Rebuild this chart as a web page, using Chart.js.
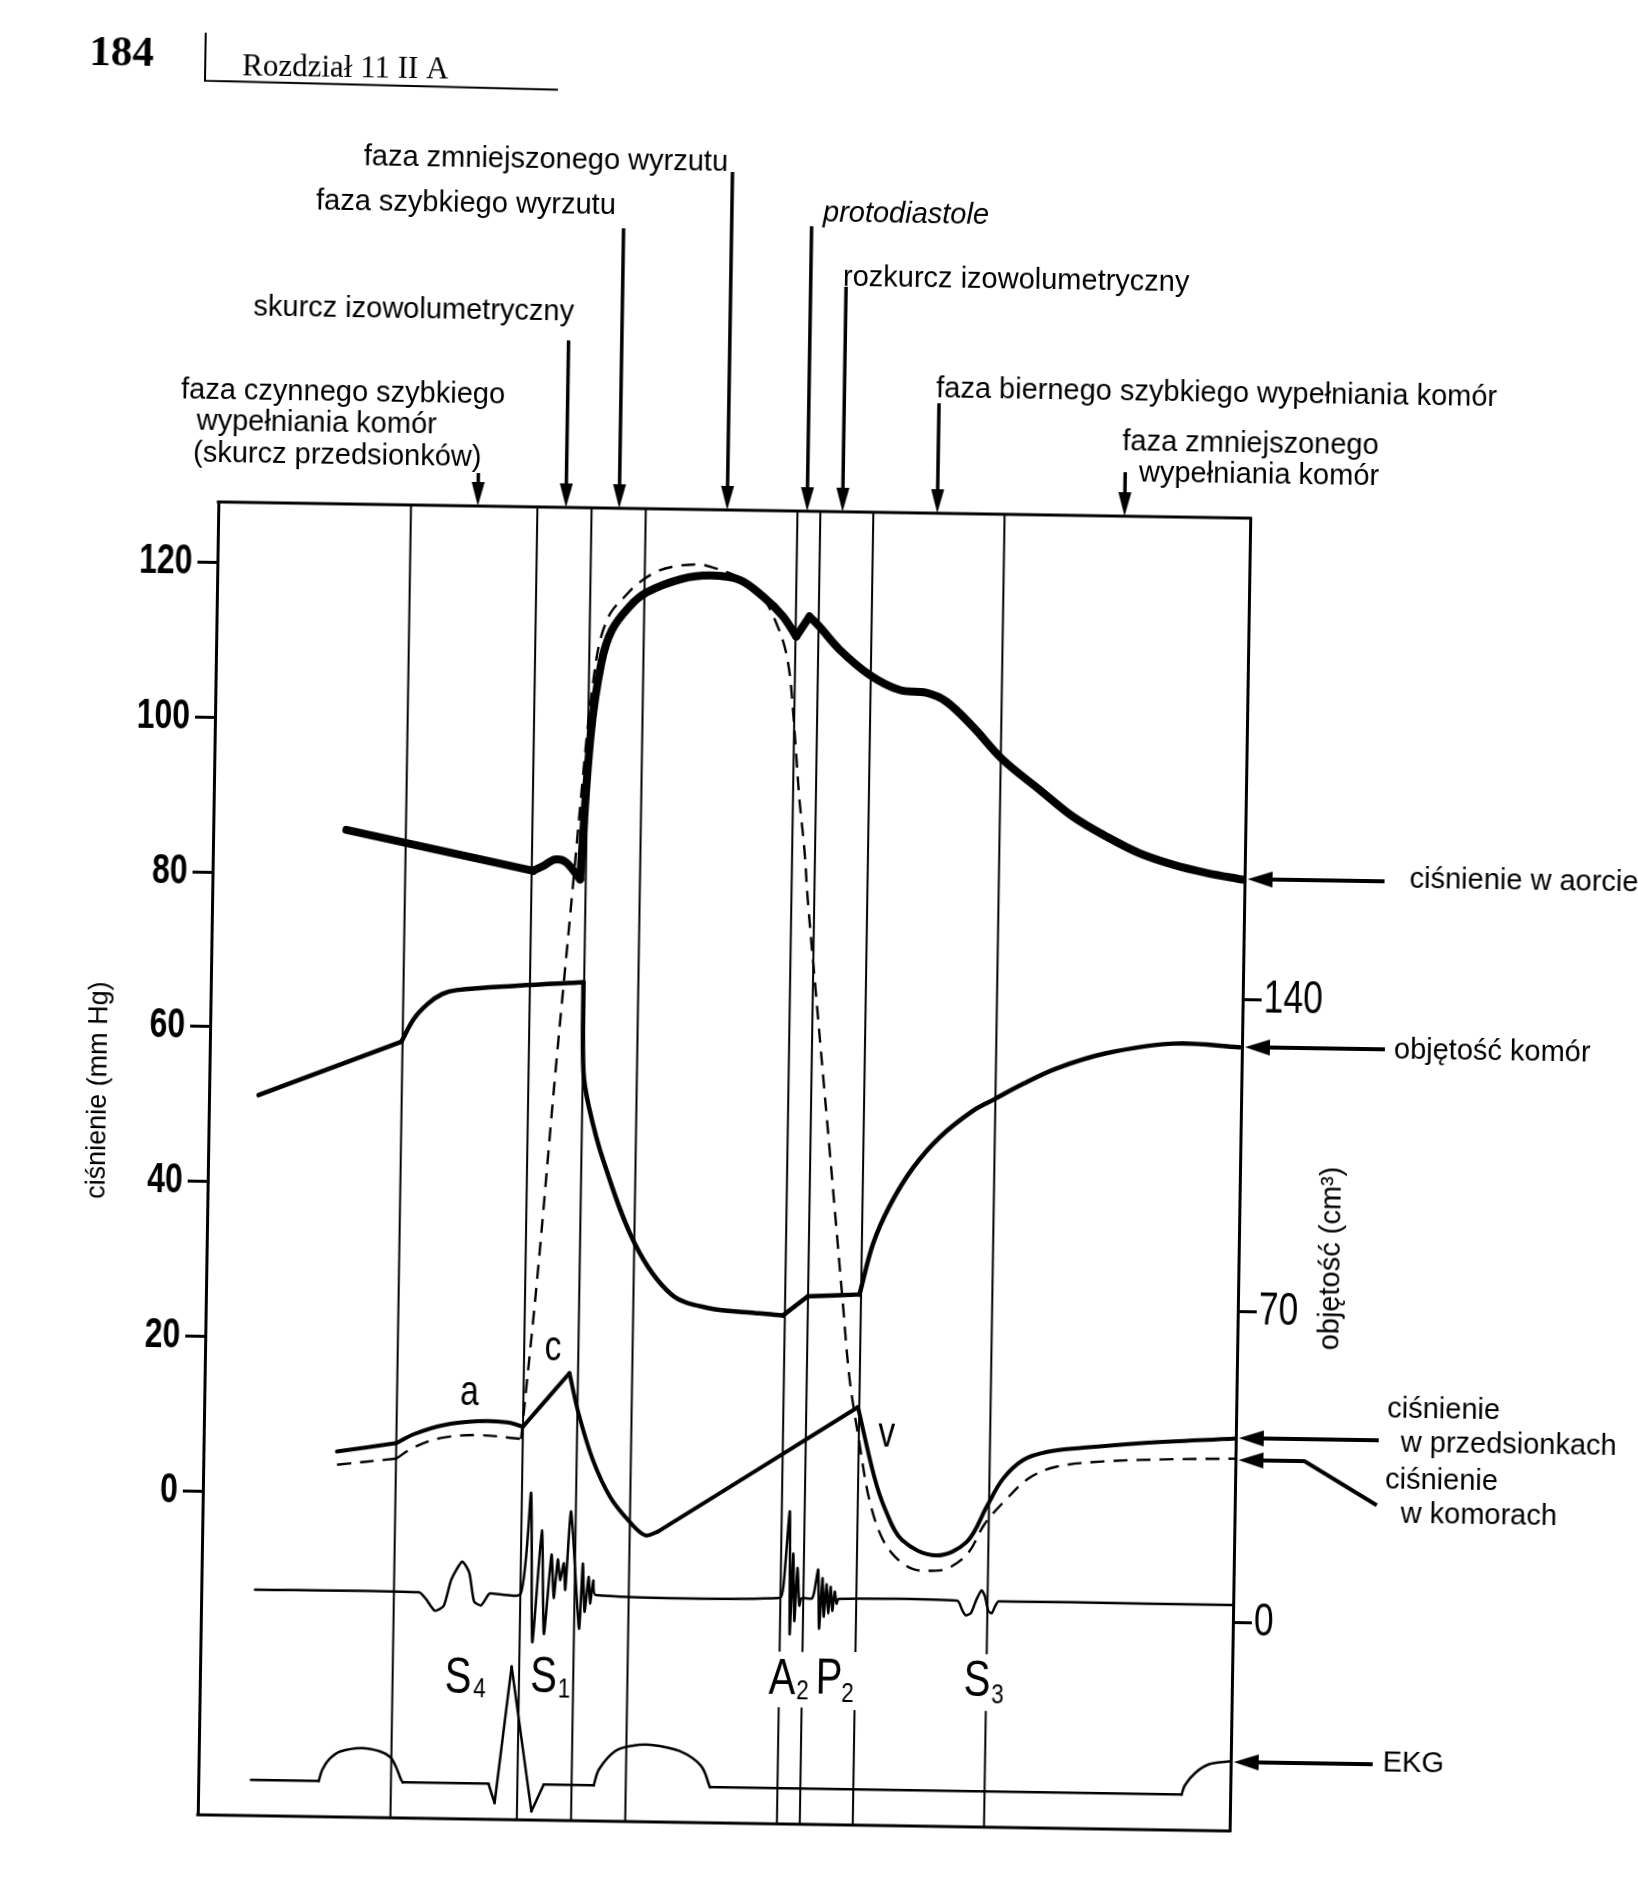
<!DOCTYPE html>
<html>
<head>
<meta charset="utf-8">
<script src="https://cdn.jsdelivr.net/npm/chart.js@4.4.1/dist/chart.umd.min.js"></script>
<style>
  html, body { margin: 0; padding: 0; background: #fff; overflow: hidden; }
  #wrap { width: 1638px; height: 1888px; position: relative; overflow: hidden; background: #fff; }
  /* the printed page is scanned about 0.9 degree clockwise */
  #wiggers { display: block; transform-origin: 725px 1166px; transform: rotate(0.9deg); }
</style>
</head>
<body>
<div id="wrap"><canvas id="wiggers" width="1638" height="1888"></canvas></div>
<script>
// time in ms from the left edge of the frame
const phaseTimes = [160, 265, 310, 355, 481, 500, 544, 653];

// cisnienie w aorcie (mm Hg)
const aortaTime = [110.6, 266.2, 275.1, 284.0, 293.1, 305.3, 312.1, 320.0, 328.3, 342.6, 357.0, 385.9, 409.2, 433.8, 453.4, 470.2, 481.6, 492.3, 500.8, 517.7, 542.9, 568.1, 590.3, 607.0, 629.4, 654.7, 685.6, 713.6, 741.6, 769.4, 797.3, 825.1, 855.6];
const aortaPressure = [85.7, 80.8, 81.5, 82.3, 82.0, 79.8, 98.3, 107.7, 112.0, 115.1, 117.0, 118.8, 119.3, 118.8, 116.7, 114.2, 111.6, 114.2, 112.9, 110.0, 106.8, 104.9, 104.6, 103.5, 100.3, 96.1, 92.3, 88.9, 86.4, 84.3, 82.9, 81.9, 81.1];
const aortaCorners = [1, 5, 16, 17];

// cisnienie w komorach (mm Hg)
const ventricleTime = [111.1, 160.1, 174.7, 198.3, 228.0, 263.6, 275.1, 287.3, 298.5, 309.2, 313.1, 318.4, 326.9, 338.6, 350.2, 365.0, 379.7, 400.5, 412.3, 429.3, 444.5, 456.3, 464.8, 472.0, 476.5, 479.6, 483.0, 486.4, 491.2, 494.6, 502.8, 509.3, 515.9, 522.4, 528.9, 535.5, 544.6, 553.6, 564.1, 575.9, 590.3, 604.7, 618.9, 635.9, 649.8, 666.7, 686.2, 708.3, 749.7, 805.0, 857];
const ventriclePressure = [3.7, 4.6, 6.1, 7.4, 7.8, 7.4, 28.6, 54.8, 77.1, 98.7, 104.7, 110.4, 114.2, 116.4, 118.2, 119.7, 120.4, 120.7, 120.3, 119.4, 118.0, 115.9, 113.3, 110.3, 106.9, 102.5, 96.5, 90.5, 84.0, 77.6, 65.2, 55.4, 45.5, 35.6, 25.7, 15.9, 7.5, 0.2, -4.5, -7.1, -8.6, -8.8, -8.5, -6.5, -2.6, 0.5, 3.4, 4.9, 5.7, 6.1, 6.3];
const ventricleCorners = [1, 5];

// cisnienie w przedsionkach (mm Hg)
const atriumTime = [110.9, 159.9, 174.6, 198.2, 227.8, 251.6, 265.0, 302.9, 310.8, 323.3, 338.6, 356.1, 368.2, 378.4, 542.9, 557.0, 566.4, 581.3, 609.5, 634.9, 651.4, 664.1, 680.8, 700.7, 730.7, 777.1, 857];
const atriumPressure = [5.4, 6.6, 7.8, 9.0, 9.6, 9.5, 9.0, 16.0, 10.9, 4.9, 0.0, -3.3, -4.8, -4.3, 12.2, 3.4, -0.8, -4.9, -6.8, -5.0, -0.3, 3.2, 5.7, 6.8, 7.4, 8.1, 8.9];
const atriumCorners = [1, 6, 7, 13, 14];

// objetosc komor (cm3)
const volumeTime = [41.1, 159.0, 169.1, 180.8, 192.5, 204.2, 254.7, 309.4, 310.6, 315.5, 328.1, 355.9, 386.2, 416.0, 460.0, 479.3, 499.8, 542.7, 553.1, 566.5, 585.3, 607.1, 634.5, 652.3, 675.6, 703.1, 744.4, 799.6, 855.1];
const volumeValues = [115.1, 127.6, 132.8, 136.3, 138.5, 139.4, 140.6, 141.6, 121.4, 113.7, 101.7, 82.8, 71.8, 68.9, 67.8, 67.4, 71.8, 72.4, 83.7, 92.4, 101.0, 108.0, 114.1, 116.8, 120.3, 123.9, 127.5, 129.9, 129.3];
const volumeCorners = [1, 7, 15, 16, 17];

// tony serca (arbitrary units)
const soundTime = [44.6, 180.7, 186.7, 194.1, 201.5, 207.5, 216.3, 222.3, 226.7, 232.6, 238.5, 240.0, 265.2, 272.6, 275.5, 282.1, 285.0, 290.4, 292.7, 295.7, 297.8, 300.7, 302.2, 306.1, 314.1, 316.5, 318.5, 321.5, 323.0, 325.4, 327.4, 480.5, 483.4, 487.7, 489.1, 491.1, 492.8, 494.8, 496.8, 498.5, 507.1, 509.1, 512.0, 513.4, 515.7, 517.1, 519.1, 520.8, 522.5, 524.2, 526.0, 527.7, 529.4, 627.9, 632.2, 635.1, 639.4, 643.7, 648.0, 650.8, 653.7, 656.6, 659.4, 662.3, 857];
const soundAmp = [0, 0, -0.55, -1.5, -1.1, 1.1, 2.6, 1.7, -0.7, -1.0, -0.1, 0, 0, 8.4, -4.0, 5.3, -3.3, 3.3, -0.3, 2.9, 1.2, 2.6, 0.4, 6.9, -2.8, 2.6, -1.4, 1.5, -0.7, 1.2, 0, 0, 1.1, 7.2, -3.0, 3.7, -1.9, 2.5, -0.6, 0, 0, 0.6, 2.4, -2.5, 1.7, -1.5, 1.2, -1.2, 1.0, -1.0, 0.6, -0.4, 0, 0, -0.8, -1.2, -1.0, 0.1, 0.9, 0.4, -0.8, -1.0, -0.4, 0, 0];

// EKG (mV)
const ecgTime = [43.8, 100.0, 102.9, 108.6, 117.4, 135.2, 150.0, 159.1, 163.6, 168.3, 169.8, 241.0, 246.3, 258.7, 277.0, 286.9, 328.4, 332.7, 345.8, 360.6, 375.4, 399.2, 417.2, 424.9, 816.6, 819.4, 827.9, 839.2, 853.5, 857];
const ecgMv = [0, 0, 0.12, 0.23, 0.31, 0.35, 0.32, 0.26, 0.17, 0.03, 0, 0, -0.2, 1.22, -0.28, 0, 0, 0.17, 0.36, 0.42, 0.43, 0.37, 0.22, 0, 0, 0.1, 0.23, 0.32, 0.35, 0.35];
const ecgCorners = [1, 10, 11, 12, 13, 14, 15, 16, 23, 24];

const pressureTicks = [0, 20, 40, 60, 80, 100, 120];
const volumeTicks = [0, 70, 140];

const SANS = "'Liberation Sans', Arial, sans-serif";
const SERIF = "'Liberation Serif', 'Times New Roman', serif";

// split a trace at its sharp corners so the smoothing keeps them sharp
function pieces(times, values, corners, axis, style) {
  const cuts = [0, ...corners, times.length - 1];
  const out = [];
  for (let k = 0; k < cuts.length - 1; k++) {
    const pts = [];
    for (let i = cuts[k]; i <= cuts[k + 1]; i++) pts.push({ x: times[i], y: values[i] });
    out.push(Object.assign({
      data: pts, yAxisID: axis, borderColor: '#000', pointRadius: 0, fill: false,
      borderCapStyle: 'round', borderJoinStyle: 'round', tension: 0.35
    }, style));
  }
  return out;
}

const datasets = [
  ...pieces(aortaTime, aortaPressure, aortaCorners, 'y', { borderWidth: 8 }),
  ...pieces(ventricleTime, ventriclePressure, ventricleCorners, 'y', { borderWidth: 2.4, borderDash: [14, 9], borderCapStyle: 'butt' }),
  ...pieces(atriumTime, atriumPressure, atriumCorners, 'y', { borderWidth: 4 }),
  ...pieces(volumeTime, volumeValues, volumeCorners, 'vol', { borderWidth: 4.5 }),
  ...pieces(soundTime, soundAmp, [], 'pcg', { borderWidth: 2.5, tension: 0.2 }),
  ...pieces(ecgTime, ecgMv, ecgCorners, 'ecg', { borderWidth: 2.5 })
];

const pageNotes = [
  { text: 'faza zmniejszonego wyrzutu', x: 348, y: 171 },
  { text: 'faza szybkiego wyrzutu', x: 301, y: 216 },
  { text: 'protodiastole', x: 808, y: 220, italic: true },
  { text: 'rozkurcz izowolumetryczny', x: 829, y: 284 },
  { text: 'skurcz izowolumetryczny', x: 240, y: 323 },
  { text: 'faza czynnego szybkiego', x: 169, y: 407 },
  { text: 'wypełniania komór', x: 185, y: 438 },
  { text: '(skurcz przedsionków)', x: 182, y: 470 },
  { text: 'faza biernego szybkiego wypełniania komór', x: 924, y: 394 },
  { text: 'faza zmniejszonego', x: 1111, y: 444 },
  { text: 'wypełniania komór', x: 1128, y: 475 },
  { text: 'ciśnienie w aorcie', x: 1405, y: 877 },
  { text: 'objętość komór', x: 1392, y: 1048 },
  { text: 'ciśnienie', x: 1391, y: 1407 },
  { text: 'w przedsionkach', x: 1405, y: 1441 },
  { text: 'ciśnienie', x: 1390, y: 1478 },
  { text: 'w komorach', x: 1406, y: 1512 },
  { text: 'EKG', x: 1392, y: 1761 }
];
// phase arrows: time they point at, top of the shaft
const phaseArrows = [[215.5, 477], [288.7, 343], [332.9, 230], [422.6, 172], [489.0, 225], [518.4, 285], [597.1, 400], [752.6, 466]];
const sideArrows = [
  [[1380, 871], [1243, 871]],
  [[1383, 1039], [1243, 1039]],
  [[1383, 1430], [1243, 1430]],
  [[1382, 1495], [1309, 1452], [1243, 1452]],
  [[1382, 1754], [1243, 1754]]
];
const waveLetters = [['a', 473, 1409], ['c', 556, 1363], ['v', 891, 1444]];
const soundLabels = [
  { m: 'S', s: '4', x: 452.7, y: 1696.6, sx: 481.6, sy: 1701.0 },
  { m: 'S', s: '1', x: 538.2, y: 1695.3, sx: 565.9, sy: 1699.6 },
  { m: 'A', s: '2', x: 776.7, y: 1692.7, sx: 804.5, sy: 1698.3, gap: true },
  { m: 'P', s: '2', x: 823.7, y: 1692.0, sx: 849.5, sy: 1700.0, gap: true },
  { m: 'S', s: '3', x: 971.8, y: 1692.1, sx: 999.6, sy: 1698.8, gap: true }
];

function write(ctx, str, x, y, font, opt = {}) {
  ctx.save();
  ctx.font = font;
  ctx.fillStyle = '#000';
  ctx.textAlign = opt.align || 'left';
  ctx.textBaseline = opt.baseline || 'alphabetic';
  ctx.translate(x, y);
  if (opt.rotate) ctx.rotate(opt.rotate);
  ctx.scale(opt.scaleX || 1, 1);
  ctx.fillText(str, 0, 0);
  ctx.restore();
}

function arrow(ctx, pts, head, half, width) {
  const n = pts.length;
  const [x1, y1] = pts[n - 2], [x2, y2] = pts[n - 1];
  const ang = Math.atan2(y2 - y1, x2 - x1);
  const bx = x2 - Math.cos(ang) * head, by = y2 - Math.sin(ang) * head;
  ctx.save();
  ctx.strokeStyle = '#000';
  ctx.fillStyle = '#000';
  ctx.lineWidth = width;
  ctx.lineJoin = 'round';
  ctx.beginPath();
  ctx.moveTo(pts[0][0], pts[0][1]);
  for (let i = 1; i < n - 1; i++) ctx.lineTo(pts[i][0], pts[i][1]);
  ctx.lineTo(bx, by);
  ctx.stroke();
  ctx.beginPath();
  ctx.moveTo(x2, y2);
  ctx.lineTo(bx - Math.sin(ang) * half, by + Math.cos(ang) * half);
  ctx.lineTo(bx + Math.sin(ang) * half, by - Math.cos(ang) * half);
  ctx.closePath();
  ctx.fill();
  ctx.restore();
}

const decor = {
  id: 'decor',
  beforeDatasetsDraw(chart) {
    const { ctx, chartArea: a, scales: { x } } = chart;
    ctx.save();
    ctx.strokeStyle = '#000';
    ctx.lineWidth = 2;
    phaseTimes.forEach(t => {
      const px = x.getPixelForValue(t);
      ctx.beginPath();
      ctx.moveTo(px, a.top);
      ctx.lineTo(px, a.bottom);
      ctx.stroke();
    });
    ctx.lineWidth = 3;
    ctx.beginPath();
    ctx.moveTo(a.left - 1.5, a.top); ctx.lineTo(a.right + 1.5, a.top);
    ctx.moveTo(a.left - 1.5, a.bottom); ctx.lineTo(a.right + 1.5, a.bottom);
    ctx.stroke();
    ctx.fillStyle = '#fff';
    soundLabels.filter(s => s.gap).forEach(s => {
      ctx.fillRect(s.x - 4, s.y - 42, s.sx + 16 - (s.x - 4), s.sy + 8 - (s.y - 42));
    });
    ctx.restore();
  },
  afterDraw(chart) {
    const { ctx, chartArea: a, scales: { x, y, vol } } = chart;
    // page header
    write(ctx, '184', 72, 75, `bold 43px ${SERIF}`);
    write(ctx, 'Rozdział 11 II A', 225, 83, `31px ${SERIF}`);
    ctx.save();
    ctx.strokeStyle = '#000';
    ctx.lineWidth = 2;
    ctx.beginPath();
    ctx.moveTo(188, 41); ctx.lineTo(188, 89); ctx.lineTo(541, 92.6);
    ctx.stroke();
    ctx.restore();

    // condensed tick numbers, placed on the axes' own ticks
    y.ticks.forEach(t => write(ctx, String(t.value), a.left - 25, y.getPixelForValue(t.value), `bold 42px ${SANS}`,
      { align: 'right', baseline: 'middle', scaleX: 0.76 }));
    vol.ticks.forEach(t => write(ctx, String(t.value), a.right + 21, vol.getPixelForValue(t.value), `46px ${SANS}`,
      { align: 'left', baseline: 'middle', scaleX: 0.77 }));

    pageNotes.forEach(n => write(ctx, n.text, n.x, n.y, `${n.italic ? 'italic ' : ''}29px ${SANS}`));
    phaseArrows.forEach(([t, top]) => {
      const px = x.getPixelForValue(t);
      arrow(ctx, [[px, top], [px, a.top]], 24, 6.5, 3.5);
    });
    sideArrows.forEach(p => arrow(ctx, p, 25, 8, 4));

    write(ctx, 'ciśnienie (mm Hg)', 98, 1100, `27px ${SANS}`, { align: 'center', baseline: 'middle', rotate: -Math.PI / 2 });
    write(ctx, 'objętość (cm³)', 1333, 1249, `29px ${SANS}`, { align: 'center', baseline: 'middle', rotate: -Math.PI / 2 });

    waveLetters.forEach(([s, lx, ly]) => write(ctx, s, lx, ly, `42px ${SANS}`, { align: 'center', scaleX: 0.8 }));
    soundLabels.forEach(s => {
      write(ctx, s.m, s.x, s.y, `50px ${SANS}`, { scaleX: 0.8 });
      write(ctx, s.s, s.sx, s.sy, `28px ${SANS}`, { scaleX: 0.8 });
    });
  }
};

const axisGrid = { display: true, drawOnChartArea: false, drawTicks: true, tickWidth: 3, tickColor: '#000', color: '#000' };
const axisBorder = { display: true, color: '#000', width: 3 };

new Chart(document.getElementById('wiggers'), {
  type: 'line',
  data: { datasets },
  options: {
    responsive: false,
    animation: false,
    events: [],
    layout: { padding: { top: 510, bottom: 65, left: 0, right: 0 } },
    plugins: { legend: { display: false }, tooltip: { enabled: false } },
    scales: {
      x: { type: 'linear', min: 0, max: 857, display: false },
      y: {
        position: 'left', min: -41.8, max: 127.8,
        afterFit: s => { s.width = 208; },
        afterBuildTicks: s => { s.ticks = pressureTicks.map(v => ({ value: v })); },
        grid: Object.assign({}, axisGrid, { tickLength: 20 }),
        border: axisBorder,
        ticks: { display: false }
      },
      vol: {
        position: 'right', min: -46.9, max: 248.3,
        afterFit: s => { s.width = 398; },
        afterBuildTicks: s => { s.ticks = volumeTicks.map(v => ({ value: v })); },
        grid: Object.assign({}, axisGrid, { tickLength: 19 }),
        border: axisBorder,
        ticks: { display: false }
      },
      ecg: { axis: 'y', position: 'right', display: false, min: -0.37, max: 13.26 },
      pcg: { axis: 'y', position: 'right', display: false, min: -18.76, max: 90.25 }
    }
  },
  plugins: [decor]
});
</script>
</body>
</html>
